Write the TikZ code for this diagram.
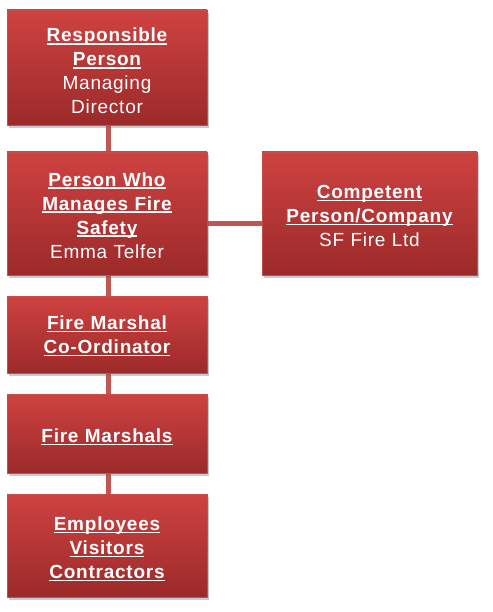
\documentclass[tikz,border=0pt]{standalone}
\usepackage{fontspec}
\setmainfont{Liberation Sans}
\usetikzlibrary{shadows}
\definecolor{boxtop}{RGB}{206,66,65}
\definecolor{boxbot}{RGB}{156,42,42}
\definecolor{boxedge}{RGB}{196,78,76}
\definecolor{conn}{RGB}{192,86,84}
\newcommand\ulw[1]{\setbox0\hbox{#1}\leavevmode\rlap{\rule[-2.8pt]{\wd0}{1.6pt}}\box0}
\tikzset{
  orgbox/.style={rectangle, minimum width=200pt, inner sep=0pt, outer sep=0pt,
    top color=boxtop, bottom color=boxbot, draw=boxedge, line width=0.8pt,
    drop shadow={shadow xshift=1.5pt, shadow yshift=-3pt, opacity=0.35, fill=black!60}},
  boxtext/.style={inner sep=0pt, text=white, align=center, text width=211pt,
    font=\fontsize{19}{24}\selectfont\addfontfeatures{LetterSpace=4}},
  connline/.style={draw=conn, line width=5pt}
}
\begin{document}
\begin{tikzpicture}[x=1pt,y=1pt]
\useasboundingbox (0,0) rectangle (492,-612);
\coordinate (trunkT) at (108,-67);
\coordinate (trunkB) at (108,-545);
\coordinate (hL) at (107,-223);
\coordinate (hR) at (369,-223);
\draw[connline] (trunkT) -- (trunkB);
\draw[connline] (hL) -- (hR);
\node[orgbox, minimum height=115pt] (rp) at (107,-67.5) {};
\node[orgbox, minimum height=123pt] (mf) at (107,-213.5) {};
\node[orgbox, minimum width=215pt, minimum height=123pt] (cp) at (369.5,-213.5) {};
\node[orgbox, minimum height=77pt] (fmc) at (107,-334.5) {};
\node[orgbox, minimum height=79pt] (fm) at (107,-433.5) {};
\node[orgbox, minimum height=103pt] (ev) at (107,-545.5) {};
\node[boxtext] (rpT) at ([yshift=-3.5pt]rp.center)
  {\bfseries\ulw{Responsible}\\\ulw{Person}\\\mdseries Managing\\Director};
\node[boxtext] (mfT) at ([yshift=-2pt]mf.center)
  {\bfseries\ulw{Person Who}\\\ulw{Manages Fire}\\\ulw{Safety}\\\mdseries Emma Telfer};
\node[boxtext] (cpT) at ([yshift=-2.5pt]cp.center)
  {\bfseries\ulw{Competent}\\\ulw{Person/Company}\\\mdseries SF Fire Ltd};
\node[boxtext] (fmcT) at ([yshift=-1.5pt]fmc.center)
  {\bfseries\ulw{Fire Marshal}\\\ulw{Co-Ordinator}};
\node[boxtext] (fmT) at ([yshift=-3.5pt]fm.center)
  {\bfseries\ulw{Fire Marshals}};
\node[boxtext] (evT) at ([yshift=-3.5pt]ev.center)
  {\bfseries\ulw{Employees}\\\ulw{Visitors}\\\ulw{Contractors}};
\end{tikzpicture}
\end{document}
